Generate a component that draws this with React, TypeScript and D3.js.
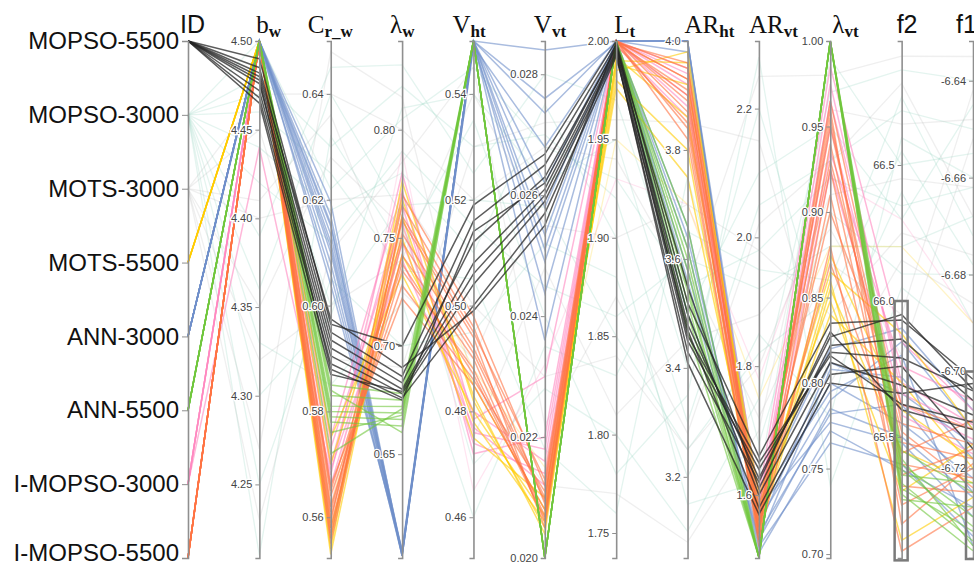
import React, { useEffect, useRef } from 'react'
import * as d3 from 'd3'

const WIDTH = 974
const HEIGHT = 568
const TOP = 41
const BOTTOM = 558

// categories on the ID axis, top to bottom
const ids = ['MOPSO-5500', 'MOPSO-3000', 'MOTS-3000', 'MOTS-5500', 'ANN-3000', 'ANN-5500', 'I-MOPSO-3000', 'I-MOPSO-5500']
const idColors = ['#262626', '#86cdb8', '#b8b8b8', '#ffcc00', '#6f8fc9', '#6fc63c', '#ff87bf', '#ff7342']

// numeric dimensions
const dimKeys = ['b_w', 'C_r_w', 'lam_w', 'V_ht', 'V_vt', 'L_t', 'AR_ht', 'AR_vt', 'lam_vt', 'f2', 'f1']
const dimDomains = [
  [4.2085, 4.5], [0.5523, 0.65], [0.602, 0.841], [0.4523, 0.55], [0.02, 0.02855], [1.7373, 2.0],
  [3.051, 4.0], [1.502, 2.305], [0.6977, 1.0], [65.055, 66.956], [-6.7385, -6.6318],
]
const dimDecimals = [2, 2, 2, 2, 3, 2, 1, 1, 2, 1, 2]

// tick labels
const bwTicks = [4.25, 4.3, 4.35, 4.4, 4.45, 4.5]
const crwTicks = [0.56, 0.58, 0.6, 0.62, 0.64]
const lamwTicks = [0.65, 0.7, 0.75, 0.8]
const vhtTicks = [0.46, 0.48, 0.5, 0.52, 0.54]
const vvtTicks = [0.02, 0.022, 0.024, 0.026, 0.028]
const ltTicks = [1.75, 1.8, 1.85, 1.9, 1.95, 2.0]
const arhtTicks = [3.2, 3.4, 3.6, 3.8, 4.0]
const arvtTicks = [1.6, 1.8, 2.0, 2.2]
const lamvtTicks = [0.7, 0.75, 0.8, 0.85, 0.9, 0.95, 1.0]
const f2Ticks = [65.5, 66.0, 66.5]
const f1Ticks = [-6.72, -6.7, -6.68, -6.66, -6.64]
const allTicks = [bwTicks, crwTicks, lamwTicks, vhtTicks, vvtTicks, ltTicks, arhtTicks, arvtTicks, lamvtTicks, f2Ticks, f1Ticks]

// brushed ranges
const f2Brush = [65.05, 66.0]
const f1Brush = [-6.7385, -6.7]

// axis titles: main text, subscript (empty = sans title)
const titleMain = ['ID', 'b', 'C', 'λ', 'V', 'V', 'L', 'AR', 'AR', 'λ', 'f2', 'f1']
const titleSub = ['', 'w', 'r_w', 'w', 'ht', 'vt', 't', 'ht', 'vt', 'vt', '', '']
const titleShift = [-8, -3, -23, -12, -21, -11, -2, -3, -10, 2, -5, -17]

// rows: b_w, C_r_w, lam_w, V_ht, V_vt, L_t, AR_ht, AR_vt, lam_vt, f2, f1
const mopso5500 = [
  [4.49, 0.5965, 0.7, 0.519, 0.02668, 2.0, 3.52, 1.66, 0.835, 65.93, -6.7016],
  [4.485, 0.595, 0.686, 0.516, 0.0265, 1.998, 3.48, 1.626, 0.827, 65.95, -6.7037],
  [4.48, 0.5935, 0.683, 0.512, 0.0263, 1.996, 3.45, 1.64, 0.818, 65.79, -6.704],
  [4.476, 0.592, 0.68, 0.508, 0.0261, 1.995, 3.5, 1.6, 0.812, 65.69, -6.709],
  [4.472, 0.5905, 0.678, 0.504, 0.0259, 1.993, 3.43, 1.62, 0.83, 65.6, -6.712],
  [4.468, 0.589, 0.676, 0.5, 0.0257, 1.992, 3.47, 1.58, 0.805, 65.76, -6.716],
  [4.478, 0.588, 0.675, 0.514, 0.0262, 1.997, 3.55, 1.61, 0.822, 65.86, -6.706],
  [4.465, 0.587, 0.679, 0.506, 0.026, 1.994, 3.41, 1.57, 0.8, 65.66, -6.7025],
  [4.482, 0.5975, 0.69, 0.499, 0.0255, 1.999, 3.46, 1.65, 0.816, 65.62, -6.7105],
]
const mopso3000 = [
  [4.48, 0.63, 0.82, 0.53, 0.027, 1.92, 3.3, 2.05, 0.93, 66.7, -6.65],
  [4.42, 0.612, 0.79, 0.515, 0.0245, 1.86, 3.6, 1.92, 0.88, 66.2, -6.668],
  [4.36, 0.64, 0.76, 0.47, 0.0228, 1.8, 3.1, 1.75, 0.97, 66.85, -6.64],
  [4.3, 0.598, 0.81, 0.54, 0.0262, 1.95, 3.4, 2.2, 0.82, 66.4, -6.69],
  [4.46, 0.625, 0.735, 0.505, 0.0218, 1.76, 3.75, 1.68, 0.9, 66.1, -6.68],
  [4.25, 0.605, 0.7, 0.495, 0.0252, 1.88, 3.2, 1.85, 0.78, 66.6, -6.66],
  [4.39, 0.645, 0.83, 0.525, 0.028, 1.97, 3.5, 2.1, 0.95, 66.3, -6.645],
  [4.33, 0.585, 0.72, 0.46, 0.0235, 1.83, 3.65, 1.95, 0.86, 66.75, -6.672],
  [4.44, 0.618, 0.78, 0.51, 0.0275, 1.9, 3.15, 1.62, 0.99, 66.5, -6.655],
  [4.21, 0.632, 0.745, 0.535, 0.024, 1.78, 3.35, 2.28, 0.74, 66.05, -6.695],
  [4.5, 0.622, 0.805, 0.545, 0.0268, 1.93, 3.55, 1.98, 0.92, 66.35, -6.662],
  [4.47, 0.6, 0.765, 0.52, 0.0258, 1.85, 3.25, 1.82, 0.85, 66.55, -6.678],
]
const mots3000 = [
  [4.47, 0.64, 0.8, 0.52, 0.0268, 1.94, 3.55, 2.25, 0.98, 66.9, -6.635],
  [4.4, 0.62, 0.77, 0.5, 0.023, 1.84, 3.25, 1.8, 0.91, 66.45, -6.662],
  [4.32, 0.6, 0.74, 0.54, 0.0255, 1.9, 3.7, 1.98, 0.84, 66.25, -6.676],
  [4.27, 0.648, 0.815, 0.485, 0.0212, 1.77, 3.08, 1.7, 0.96, 66.65, -6.648],
  [4.45, 0.59, 0.69, 0.53, 0.0272, 1.96, 3.85, 2.15, 0.8, 66.15, -6.686],
  [4.35, 0.628, 0.755, 0.475, 0.0248, 1.81, 3.45, 1.88, 0.89, 65.8, -6.652],
  [4.23, 0.61, 0.785, 0.545, 0.0222, 1.87, 3.28, 2.02, 0.93, 66.8, -6.668],
  [4.41, 0.636, 0.725, 0.49, 0.026, 1.99, 3.58, 1.72, 0.87, 65.95, -6.642],
]
const mots5500 = [
  [4.5, 0.554, 0.776, 0.482, 0.0205, 1.985, 3.98, 1.56, 0.875, 65.6, -6.718],
  [4.5, 0.553, 0.76, 0.478, 0.0206, 1.99, 3.96, 1.58, 0.865, 65.88, -6.712],
  [4.5, 0.558, 0.742, 0.485, 0.0208, 1.98, 3.8, 1.54, 0.855, 65.45, -6.723],
  [4.5, 0.575, 0.733, 0.48, 0.0207, 1.988, 3.92, 1.6, 0.848, 65.3, -6.715],
  [4.5, 0.57, 0.75, 0.475, 0.021, 1.976, 3.75, 1.57, 0.84, 65.7, -6.72],
  [4.5, 0.556, 0.768, 0.483, 0.0204, 1.992, 3.86, 1.55, 0.86, 65.12, -6.726],
  [4.5, 0.562, 0.755, 0.488, 0.0215, 1.95, 3.7, 1.75, 0.88, 66.2, -6.69],
]
const ann3000 = [
  [4.5, 0.6195, 0.603, 0.55, 0.0284, 2.0, 4.0, 1.56, 0.79, 65.85, -6.712],
  [4.5, 0.617, 0.604, 0.55, 0.02736, 2.0, 4.0, 1.54, 0.782, 65.62, -6.725],
  [4.499, 0.615, 0.603, 0.549, 0.0268, 2.0, 3.98, 1.58, 0.777, 65.48, -6.73],
  [4.5, 0.612, 0.605, 0.55, 0.0262, 1.999, 3.62, 1.52, 0.765, 65.4, -6.734],
  [4.5, 0.61, 0.604, 0.55, 0.02534, 2.0, 3.56, 1.53, 0.808, 65.72, -6.718],
  [4.5, 0.608, 0.603, 0.549, 0.0249, 1.998, 3.5, 1.6, 0.82, 65.9, -6.708],
  [4.498, 0.606, 0.604, 0.55, 0.02438, 2.0, 4.0, 1.57, 0.8, 65.55, -6.722],
  [4.5, 0.604, 0.606, 0.55, 0.0236, 2.0, 3.66, 1.51, 0.772, 65.38, -6.728],
  [4.5, 0.611, 0.603, 0.55, 0.0276, 1.999, 3.58, 1.55, 0.812, 65.66, -6.715],
  [4.5, 0.6135, 0.604, 0.55, 0.0258, 2.0, 4.0, 1.59, 0.795, 65.8, -6.736],
  [4.5, 0.6155, 0.605, 0.55, 0.0251, 2.0, 3.64, 1.53, 0.785, 65.5, -6.726],
]
const ann5500 = [
  [4.5, 0.585, 0.678, 0.55, 0.02, 2.0, 3.66, 1.503, 1.0, 65.45, -6.725],
  [4.5, 0.583, 0.675, 0.55, 0.02, 2.0, 3.62, 1.503, 1.0, 65.4, -6.73],
  [4.5, 0.581, 0.672, 0.55, 0.02, 2.0, 3.58, 1.503, 1.0, 65.38, -6.732],
  [4.5, 0.58, 0.669, 0.55, 0.02, 2.0, 3.55, 1.503, 1.0, 65.33, -6.735],
  [4.5, 0.579, 0.666, 0.55, 0.02, 2.0, 3.52, 1.503, 1.0, 65.29, -6.737],
  [4.5, 0.578, 0.663, 0.55, 0.02, 2.0, 3.5, 1.503, 1.0, 65.27, -6.728],
  [4.5, 0.576, 0.668, 0.55, 0.02, 2.0, 3.47, 1.503, 1.0, 65.31, -6.733],
  [4.5, 0.572, 0.671, 0.55, 0.02, 2.0, 3.6, 1.503, 1.0, 65.36, -6.723],
  [4.5, 0.584, 0.66, 0.55, 0.02, 2.0, 3.54, 1.503, 1.0, 65.42, -6.736],
]
const imopso3000 = [
  [4.44, 0.568, 0.78, 0.4785, 0.023, 2.0, 3.95, 1.6, 0.985, 65.85, -6.708],
  [4.5, 0.57, 0.765, 0.476, 0.0218, 2.0, 3.92, 1.57, 0.965, 65.7, -6.711],
  [4.5, 0.573, 0.757, 0.474, 0.0214, 1.999, 3.9, 1.56, 0.95, 65.62, -6.714],
  [4.5, 0.566, 0.748, 0.48, 0.0216, 2.0, 3.88, 1.59, 0.935, 65.76, -6.706],
  [4.498, 0.575, 0.772, 0.472, 0.022, 2.0, 3.94, 1.55, 0.925, 65.58, -6.717],
  [4.5, 0.569, 0.74, 0.477, 0.0212, 1.998, 3.86, 1.58, 0.975, 65.66, -6.712],
  [4.5, 0.562, 0.79, 0.465, 0.0232, 1.93, 3.7, 1.78, 0.92, 66.3, -6.69],
]
const imopso5500 = [
  [4.5, 0.556, 0.765, 0.496, 0.0209, 2.0, 3.95, 1.54, 0.965, 65.55, -6.715],
  [4.5, 0.558, 0.752, 0.492, 0.021, 2.0, 3.93, 1.56, 0.95, 65.48, -6.718],
  [4.5, 0.56, 0.742, 0.49, 0.0206, 1.999, 3.91, 1.53, 0.94, 65.4, -6.722],
  [4.5, 0.562, 0.735, 0.488, 0.0207, 2.0, 3.89, 1.52, 0.925, 65.32, -6.725],
  [4.5, 0.564, 0.728, 0.486, 0.0211, 2.0, 3.87, 1.55, 0.91, 65.25, -6.72],
  [4.5, 0.566, 0.722, 0.485, 0.0208, 1.998, 3.85, 1.57, 0.9, 65.62, -6.712],
  [4.5, 0.557, 0.758, 0.494, 0.0205, 2.0, 3.84, 1.53, 0.88, 65.08, -6.728],
  [4.5, 0.559, 0.77, 0.498, 0.0212, 1.999, 3.96, 1.56, 0.87, 65.44, -6.71],
  [4.5, 0.561, 0.748, 0.491, 0.02095, 2.0, 3.82, 1.54, 0.955, 65.36, -6.716],
  [4.5, 0.565, 0.738, 0.487, 0.02065, 2.0, 3.9, 1.58, 0.93, 65.52, -6.724],
  [4.5, 0.555, 0.76, 0.495, 0.0213, 2.0, 3.93, 1.55, 0.96, 65.18, -6.719],
]
const idRows = [mopso5500, mopso3000, mots3000, mots5500, ann3000, ann5500, imopso3000, imopso5500]
// drawing order of the groups (last on top)
const drawOrder = ['MOPSO-3000', 'MOTS-3000', 'ANN-3000', 'I-MOPSO-3000', 'MOTS-5500', 'I-MOPSO-5500', 'ANN-5500', 'MOPSO-5500']

export default function App() {
  const ref = useRef<SVGSVGElement>(null)

  useEffect(() => {
    const svg = d3.select(ref.current)
    svg.selectAll('*').remove()

    const x = d3.scalePoint().domain(['ID', ...dimKeys]).range([188, 973])
    const yId = d3.scalePoint().domain(ids).range([TOP, BOTTOM])
    const ys = dimDomains.map(d => d3.scaleLinear().domain(d).range([BOTTOM, TOP]))
    const color = d3.scaleOrdinal<string, string>().domain(ids).range(idColors)

    const records = drawOrder.flatMap(id =>
      idRows[ids.indexOf(id)].map(values => ({ id, values })))
    const f2i = dimKeys.indexOf('f2'), f1i = dimKeys.indexOf('f1')
    const isSel = (v: number[]) =>
      v[f2i] >= f2Brush[0] && v[f2i] <= f2Brush[1] && v[f1i] >= f1Brush[0] && v[f1i] <= f1Brush[1]

    const line = d3.line<[number, number]>()
    const pts = (r: { id: string, values: number[] }): [number, number][] => [
      [x('ID')!, yId(r.id)!],
      ...dimKeys.map((k, i) => [x(k)!, ys[i](r.values[i])] as [number, number]),
    ]

    const faint = records.filter(r => !isSel(r.values))
    const sel = records.filter(r => isSel(r.values))

    svg.append('g').selectAll('path').data(faint).join('path')
      .attr('d', r => line(pts(r)))
      .attr('fill', 'none')
      .attr('stroke', r => color(r.id))
      .attr('stroke-opacity', 0.22)
      .attr('stroke-width', 1.3)

    svg.append('g').selectAll('path').data(sel).join('path')
      .attr('d', r => line(pts(r)))
      .attr('fill', 'none')
      .attr('stroke', r => color(r.id))
      .attr('stroke-opacity', r => r.id === 'MOPSO-5500' ? 0.75 : 0.6)
      .attr('stroke-width', 1.5)

    // ID axis
    const gId = svg.append('g').attr('transform', `translate(${x('ID')},0)`)
      .call(d3.axisLeft(yId).tickSize(6).tickPadding(3))
    gId.selectAll('text').attr('font-size', 24).attr('fill', '#111')
      .attr('font-family', '"Liberation Sans", Arial, sans-serif')
      .attr('dy', (d: any) => d === ids[ids.length - 1] ? '0.1em' : '0.32em')

    // numeric axes
    dimKeys.forEach((k, i) => {
      const g = svg.append('g').attr('transform', `translate(${x(k)},0)`)
        .call(d3.axisLeft(ys[i]).tickValues(allTicks[i])
          .tickFormat(d => (+d).toFixed(dimDecimals[i]))
          .tickSizeInner(4).tickSizeOuter(4).tickPadding(3))
      g.selectAll('text').attr('font-size', 11).attr('fill', '#444')
        .attr('font-family', '"Liberation Sans", Arial, sans-serif')
        .attr('stroke', '#fff').attr('stroke-width', 2.5).attr('paint-order', 'stroke')
    })

    svg.selectAll('.domain').attr('stroke', '#8f8f8f').attr('stroke-width', 1.6)
    svg.selectAll('.tick line').attr('stroke', '#8f8f8f')

    // brushes
    const brushes = [['f2', f2Brush], ['f1', f1Brush]] as [string, number[]][]
    brushes.forEach(([k, ext]) => {
      const i = dimKeys.indexOf(k)
      svg.append('rect')
        .attr('x', x(k)! - 7).attr('width', 13)
        .attr('y', ys[i](ext[1])).attr('height', ys[i](ext[0]) - ys[i](ext[1]) + 1)
        .attr('fill', 'none').attr('stroke', '#7a7a7a').attr('stroke-width', 2.5)
    })

    // titles
    const titles = svg.append('g')
    ;['ID', ...dimKeys].forEach((k, i) => {
      const sans = titleSub[i] === ''
      const t = titles.append('text')
        .attr('x', x(k)! + titleShift[i]).attr('y', 33)
        .attr('font-family', sans ? '"Liberation Sans", Arial, sans-serif' : '"Liberation Serif", "Times New Roman", serif')
        .attr('font-size', 25)
        .attr('fill', '#111')
        .text(titleMain[i])
      if (!sans) {
        t.append('tspan').attr('font-size', 17).attr('font-weight', 'bold').attr('dy', 4).text(titleSub[i])
      }
    })
  }, [])

  return (
    <svg ref={ref} width={WIDTH} height={HEIGHT}
      style={{ position: 'fixed', left: 0, top: 0, background: '#fff', overflow: 'hidden' }} />
  )
}
